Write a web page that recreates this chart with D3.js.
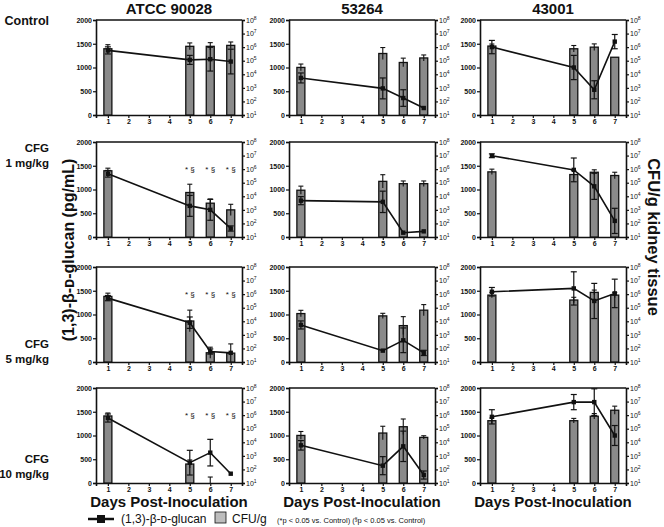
<!DOCTYPE html>
<html><head><meta charset="utf-8">
<script src="https://cdn.jsdelivr.net/npm/d3@7"></script>
<style>
body{margin:0;background:#fff}
text{font-family:"Liberation Sans",Arial,sans-serif}
</style>
</head><body>
<svg id="c" width="664" height="527"></svg>
<script>
// ---------- DATA ----------
const days = [1, 5, 6, 7];
const dayTicks = [1, 2, 3, 4, 5, 6, 7];
const strains = ["ATCC 90028", "53264", "43001"];
const groupLabels = [["Control"], ["CFG", "1 mg/kg"], ["CFG", "5 mg/kg"], ["CFG", "10 mg/kg"]];
const leftTicks = [0, 500, 1000, 1500, 2000];
const rightTicks = [1e1, 1e2, 1e3, 1e4, 1e5, 1e6, 1e7, 1e8];

// (1,3)-beta-D-glucan, pg/mL  [group][strain][day]
const glucan = [
  [[1360, 1160, 1175, 1125], [780, 560, 357, 147], [1430, 1000, 531, 1545]],
  [[1331, 655, 572, 179], [765, 740, 91, 119], [1710, 1413, 1067, 339]],
  [[1345, 828, 221, 193], [780, 239, 457, 191], [1479, 1549, 1285, 1444]],
  [[1368, 428, 639, 196], [793, 365, 772, 168], [1393, 1703, 1703, 1000]]
];
const glucanErr = [
  [[75, 95, 250, 260], [105, 220, 175, 0], [140, 255, 190, 150]],
  [[70, 220, 220, 55], [85, 225, 0, 0], [40, 250, 275, 265]],
  [[55, 120, 55, 0], [85, 0, 260, 55], [90, 350, 370, 300]],
  [[85, 260, 280, 0], [100, 190, 320, 85], [150, 160, 280, 210]]
];
// CFU/g kidney tissue  [group][strain][day]
const cfu = [
  [[7.6e5, 1.15e6, 1.15e6, 1.35e6], [3.2e4, 3.4e5, 7.4e4, 1.6e5], [1.2e6, 7.6e5, 1.0e6, 1.8e5]],
  [[7.6e5, 1.9e4, 3.1e3, 1.0e3], [2.8e4, 1.26e5, 8.5e4, 8.5e4], [6.3e5, 4.0e5, 5.9e5, 3.4e5]],
  [[6.8e5, 1.05e4, 48, 45], [3.7e4, 2.5e4, 4.8e3, 6.6e4], [8.5e5, 3.7e5, 1.35e6, 8.5e5]],
  [[8.7e5, 250, 10, null], [3.2e4, 4.8e4, 1.4e5, 2.3e4], [3.9e5, 3.9e5, 8.3e5, 2.3e6]]
];
// error as log10 units
const cfuErrLog = [
  [[0.30, 0.25, 0.27, 0.25], [0.25, 0.44, 0.32, 0.22], [0.15, 0.24, 0.24, 0]],
  [[0.19, 0.61, 0.31, 0.41], [0.30, 0.49, 0.20, 0.20], [0.20, 0.30, 0.18, 0.24]],
  [[0.24, 0.80, 0.41, 0.68], [0.24, 0.19, 0.66, 0.41], [0.20, 0.20, 0.17, 0.20]],
  [[0.22, 0.30, 0.44, 0], [0.29, 0.50, 0.57, 0.12], [0.20, 0.17, 0.20, 0.30]]
];
// significance marks: [group][strain] -> days marked
const sigDays = [[[], [], []], [[5, 6, 7], [], []], [[5, 6, 7], [], []], [[5, 6, 7], [], []]];

// ---------- LAYOUT ----------
const svg = d3.select("#c");
const colX = [96, 289, 480];
const rowY = [20, 142, 267, 388];
const W = 146, H = 95;
const black = "#111";
const barFill = "#8a8a8a";

const x = d3.scaleLinear().domain([0.42, 7.55]).range([0, W]);
const yL = d3.scaleLinear().domain([0, 2000]).range([H, 0]);
const yR = d3.scaleLog().domain([1e1, 1e8]).range([H, 0]);

function styleAxis(g) {
  g.select(".domain").attr("stroke", black).attr("stroke-width", 1.6);
  g.selectAll(".tick line").attr("stroke", black).attr("stroke-width", 1.2);
  g.selectAll(".tick text").attr("font-family", "Liberation Sans, Arial, sans-serif")
    .attr("font-weight", "bold").attr("fill", black);
}

strains.forEach((s, c) => {
  svg.append("text").attr("x", colX[c] + W / 2).attr("y", 14)
    .attr("text-anchor", "middle").attr("font-size", 15).attr("font-weight", "bold")
    .attr("fill", black).text(s);
});

const labelBase = [25, 152, 348, 463];
groupLabels.forEach((lab, r) => {
  const t = svg.append("text").attr("text-anchor", "end").attr("font-size", r === 0 ? 12.5 : 11.5)
    .attr("font-weight", "bold").attr("fill", black);
  lab.forEach((l, i) => t.append("tspan").attr("x", 49).attr("y", labelBase[r] + i * 15).text(l));
});

groupLabels.forEach((lab, r) => {
  strains.forEach((s, c) => {
    const g = svg.append("g").attr("transform", `translate(${colX[c]},${rowY[r]})`);
    // top border
    g.append("line").attr("x1", 0).attr("x2", W).attr("y1", 0).attr("y2", 0)
      .attr("stroke", black).attr("stroke-width", 1.6);
    // axes
    g.append("g").call(d3.axisLeft(yL).tickValues(leftTicks).tickSize(3).tickPadding(1).tickFormat(d3.format("d")))
      .call(styleAxis).selectAll(".tick text").attr("font-size", 7);
    const ra = g.append("g").attr("transform", `translate(${W},0)`)
      .call(d3.axisRight(yR).tickValues(rightTicks).tickSize(3).tickPadding(1).tickFormat(() => ""))
      .call(styleAxis);
    ra.selectAll(".tick text").attr("font-size", 7).attr("font-weight", "normal").each(function (d) {
      const t = d3.select(this);
      t.text("10");
      t.append("tspan").attr("dy", -3).attr("font-size", 5).text(Math.round(Math.log10(d)));
    });
    g.append("g").attr("transform", `translate(0,${H})`)
      .call(d3.axisBottom(x).tickValues(dayTicks).tickFormat(d3.format("d")).tickSize(3).tickPadding(1))
      .call(styleAxis).selectAll(".tick text").attr("font-size", 7);

    // bars (CFU/g)
    const bd = days.map((d, i) => ({ d, v: cfu[r][c][i], e: cfuErrLog[r][c][i] })).filter(o => o.v != null);
    g.selectAll(".bar").data(bd).enter().append("rect")
      .attr("x", o => x(o.d) - 4).attr("width", 8)
      .attr("y", o => yR(Math.max(o.v, 10))).attr("height", o => H - yR(Math.max(o.v, 10)))
      .attr("fill", barFill).attr("stroke", black).attr("stroke-width", 1.3);
    bd.filter(o => o.e > 0).forEach(o => {
      const hi = yR(o.v * Math.pow(10, o.e));
      const lo = Math.min(H, yR(Math.max(10, o.v / Math.pow(10, o.e))));
      g.append("line").attr("x1", x(o.d)).attr("x2", x(o.d)).attr("y1", hi).attr("y2", lo)
        .attr("stroke", black).attr("stroke-width", 1.1);
      g.append("line").attr("x1", x(o.d) - 2.5).attr("x2", x(o.d) + 2.5).attr("y1", hi).attr("y2", hi)
        .attr("stroke", black).attr("stroke-width", 1.1);
    });

    // line (glucan)
    const ld = days.map((d, i) => ({ d, v: glucan[r][c][i], e: glucanErr[r][c][i] }));
    ld.filter(o => o.e > 0).forEach(o => {
      const hi = yL(Math.min(2000, o.v + o.e)), lo = yL(Math.max(0, o.v - o.e));
      g.append("line").attr("x1", x(o.d)).attr("x2", x(o.d)).attr("y1", hi).attr("y2", lo)
        .attr("stroke", black).attr("stroke-width", 1.2);
      [hi, lo].forEach(yy => g.append("line").attr("x1", x(o.d) - 3).attr("x2", x(o.d) + 3)
        .attr("y1", yy).attr("y2", yy).attr("stroke", black).attr("stroke-width", 1.2));
    });
    g.append("path").datum(ld)
      .attr("d", d3.line().x(o => x(o.d)).y(o => yL(o.v)))
      .attr("fill", "none").attr("stroke", black).attr("stroke-width", 1.6);
    g.selectAll(".pt").data(ld).enter().append("rect")
      .attr("x", o => x(o.d) - 2.2).attr("y", o => yL(o.v) - 2.2).attr("width", 4.4).attr("height", 4.4)
      .attr("fill", black);

    // significance marks
    sigDays[r][c].forEach(d => {
      g.append("text").attr("x", x(d)).attr("y", 30).attr("text-anchor", "middle")
        .attr("font-size", 8).attr("fill", black).text("* §");
    });

    if (r === 3) {
      svg.append("text").attr("x", colX[c] + W / 2).attr("y", 507).attr("text-anchor", "middle")
        .attr("font-size", 15).attr("font-weight", "bold").attr("fill", black).text("Days Post-Inoculation");
    }
  });
});

// axis titles
svg.append("text").attr("transform", "translate(74,250) rotate(-90)").attr("text-anchor", "middle")
  .attr("font-size", 16).attr("font-weight", "bold").attr("fill", black)
  .text("(1,3)-β-ᴅ-glucan (pg/mL)");
svg.append("text").attr("transform", "translate(648,237) rotate(90)").attr("text-anchor", "middle")
  .attr("font-size", 16.5).attr("font-weight", "bold").attr("fill", black)
  .text("CFU/g kidney tissue");

// legend
const lg = svg.append("g");
lg.append("line").attr("x1", 88).attr("x2", 114).attr("y1", 519).attr("y2", 519)
  .attr("stroke", black).attr("stroke-width", 2.5);
lg.append("rect").attr("x", 97).attr("y", 515).attr("width", 8).attr("height", 8).attr("fill", black);
lg.append("text").attr("x", 121).attr("y", 523).attr("font-size", 12).attr("fill", black)
  .text("(1,3)-β-ᴅ-glucan");
lg.append("rect").attr("x", 215).attr("y", 512).attr("width", 11).attr("height", 11)
  .attr("fill", "#bdbdbd").attr("stroke", black).attr("stroke-width", 0.8);
lg.append("text").attr("x", 232).attr("y", 523).attr("font-size", 12).attr("fill", black).text("CFU/g");
const fn = lg.append("text").attr("x", 277).attr("y", 523).attr("font-size", 7.5).attr("fill", black);
fn.append("tspan").text("(*p < 0.05 vs. Control) (");
fn.append("tspan").attr("dy", -2).attr("font-size", 5).text("§");
fn.append("tspan").attr("dy", 2).text("p < 0.05 vs. Control)");
</script>
</body></html>
